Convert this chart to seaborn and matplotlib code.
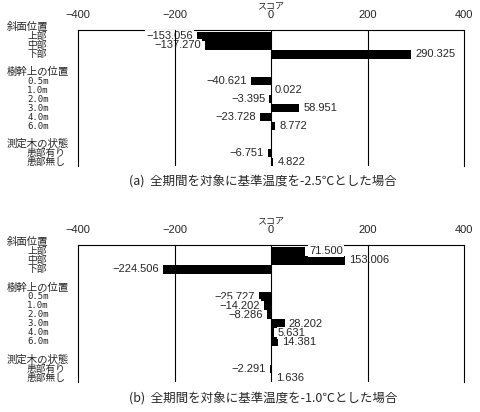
import pandas as pd
import matplotlib
matplotlib.use("Agg")
import matplotlib.pyplot as plt
import matplotlib.transforms as mtransforms
import seaborn as sns

# --- data ---
groups = ["斜面位置", "樹幹上の位置", "測定木の状態"]
slope_items = ["上部", "中部", "下部"]
height_items = ["0.5m", "1.0m", "2.0m", "3.0m", "4.0m", "6.0m"]
state_items = ["患部有り", "患部無し"]

score_a_slope = [-153.056, -137.270, 290.325]
score_a_height = [-40.621, 0.022, -3.395, 58.951, -23.728, 8.772]
score_a_state = [-6.751, 4.822]

score_b_slope = [71.500, 153.006, -224.506]
score_b_height = [-25.727, -14.202, -8.286, 28.202, 5.631, 14.381]
score_b_state = [-2.291, 1.636]

x_ticks = [-400, -200, 0, 200, 400]
x_label = "スコア"
captions = ["(a)  全期間を対象に基準温度を-2.5℃とした場合",
            "(b)  全期間を対象に基準温度を-1.0℃とした場合"]

sns.set_style("white")
plt.rcParams["font.family"] = ["Noto Sans CJK JP", "DejaVu Sans"]

W, H = 480, 412
fig = plt.figure(figsize=(W / 100, H / 100), dpi=100)


def px_rect(l, t, r, b):
    return [l / W, 1 - b / H, (r - l) / W, (b - t) / H]


def build_table(item_lists, score_lists):
    # one header row per group, then its items, then a blank row
    rows = []
    r = 0
    headers = []
    for g, items, scores in zip(groups, item_lists, score_lists):
        headers.append((g, r))
        for i, (name, s) in enumerate(zip(items, scores)):
            rows.append({"item": name, "score": s, "row": r + 1 + i})
        r += len(items) + 2
    return pd.DataFrame(rows), headers


def draw_panel(rect, score_lists, caption, cap_y):
    ax = fig.add_axes(px_rect(*rect))
    df, headers = build_table([slope_items, height_items, state_items], score_lists)

    sns.barplot(data=df, x="score", y="row", orient="h", native_scale=True,
                color="black", width=0.95, linewidth=0, errorbar=None,
                saturation=1, ax=ax)

    ax.set_xlim(-400, 400)
    ax.set_ylim(15.45, 0.3)
    ax.set_yticks([])
    ax.set_ylabel("")
    ax.xaxis.tick_top()
    ax.xaxis.set_label_position("top")
    ax.set_xticks(x_ticks)
    ax.tick_params(axis="x", length=0, pad=7)
    for lbl in ax.get_xticklabels():
        lbl.set_fontfamily("Liberation Sans")
        lbl.set_fontsize(8)
    ax.set_xlabel(x_label, fontsize=6.5, labelpad=1)

    for side in ["top", "left", "right"]:
        ax.spines[side].set_visible(True)
        ax.spines[side].set_color("black")
        ax.spines[side].set_linewidth(0.8)
    ax.spines["bottom"].set_visible(False)
    for x in x_ticks[1:-1]:
        ax.axvline(x, color="black", lw=0.8, zorder=5)

    trans = mtransforms.blended_transform_factory(fig.transFigure, ax.transData)
    for g, r in headers:
        ax.text(7 / W, r, g, transform=trans, ha="left", va="center", fontsize=7.5)
    for _, row in df.iterrows():
        if row["item"].isascii():
            ax.text(27 / W, row["row"], row["item"], transform=trans, ha="left",
                    va="center", fontsize=6.5, family="DejaVu Sans Mono")
        else:
            ax.text(27 / W, row["row"], row["item"], transform=trans, ha="left",
                    va="center", fontsize=7)

        v = row["score"]
        txt = f"{v:.3f}".replace("-", "\u2212")
        ax.annotate(txt, xy=(v, row["row"]), xytext=(4 if v >= 0 else -4, 0),
                    textcoords="offset pixels", ha="left" if v >= 0 else "right",
                    va="center", fontsize=8, family="Liberation Sans", zorder=4,
                    bbox=dict(boxstyle="square,pad=0.1", fc="white", ec="none"))

    fig.text(263 / W, 1 - cap_y / H, caption, ha="center", va="center", fontsize=9)
    return ax


draw_panel((78, 30, 464, 166), [score_a_slope, score_a_height, score_a_state],
           captions[0], 182)
draw_panel((78, 245, 464, 382), [score_b_slope, score_b_height, score_b_state],
           captions[1], 399)

fig.savefig("out.png", dpi=100)
